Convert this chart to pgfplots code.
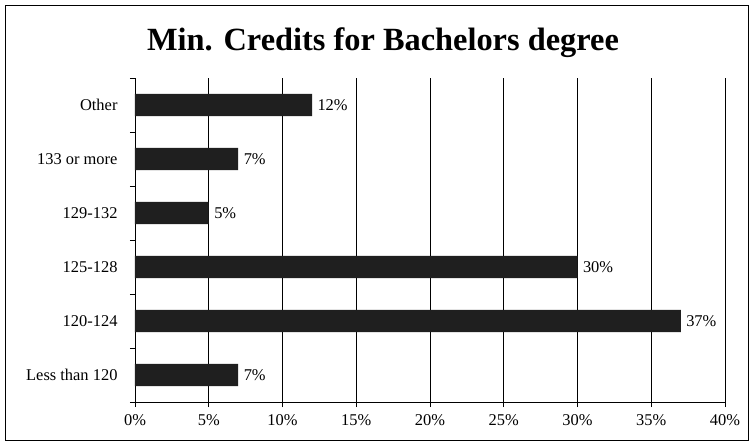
\documentclass[border=0pt]{standalone}
\usepackage{pgfplots}
\pgfplotsset{compat=1.18}
\usepackage{fontspec}
\setmainfont{Liberation Serif}
\usetikzlibrary{calc}
\begin{document}
\begin{tikzpicture}
\begin{axis}[name=ax, scale only axis, width=590bp, height=324bp,
  xbar, bar width=0.41,
  xmin=0, xmax=40, ymin=-0.5, ymax=5.5,
  axis x line*=bottom, axis y line*=left,
  axis line style={black, line width=0.8pt},
  xtick={0,5,...,40},
  xticklabel={\pgfmathprintnumber{\tick}\%},
  ytick={0,...,5},
  yticklabels={Less than 120,120-124,125-128,129-132,133 or more,Other},
  minor ytick={-0.5,0.5,...,5.5},
  major y tick style={draw=none},
  minor y tick style={black, line width=0.8pt},
  minor tick length=5bp,
  major x tick style={black, line width=0.8pt},
  major tick length=5bp,
  tick align=outside,
  xmajorgrids=true,
  major grid style={black, line width=0.8pt},
  ticklabel style={font=\fontsize{16.5}{19}\selectfont},
  /pgf/number format/assume math mode=true,
  yticklabel style={xshift=-9bp},
  xticklabel style={yshift=-4bp},
  point meta=x,
  nodes near coords={\pgfmathprintnumber{\pgfplotspointmeta}\%},
  nodes near coords style={font=\fontsize{16.5}{19}\selectfont, anchor=west, xshift=2bp, text=black},
]
\addplot[fill=black!88, draw=none] coordinates {(7,0) (37,1) (30,2) (5,3) (7,4) (12,5)};
\end{axis}
\path ($(ax.south west)+(-135bp,-41bp)$) rectangle ($(ax.north east)+(26bp,78bp)$);
\draw[line width=0.8pt] ($(ax.south west)+(-130bp,-38bp)$) rectangle ($(ax.north east)+(23bp,73bp)$);
\node[font=\bfseries\fontsize{32.5}{35}\selectfont] at ($(ax.north west)+(248bp,35bp)$) {Min. Credits for Bachelors degree};
\end{tikzpicture}
\end{document}
